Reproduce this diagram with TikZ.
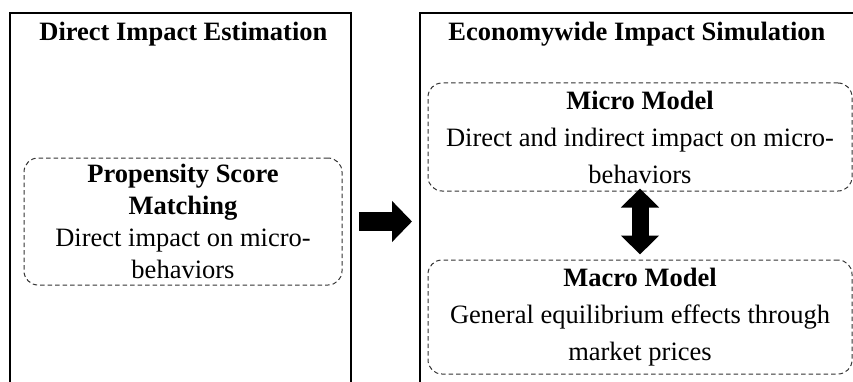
\documentclass[tikz,border=0pt]{standalone}
\usepackage{fontspec}
\setmainfont{Liberation Serif}
\usetikzlibrary{arrows.meta,positioning}

\begin{document}
\begin{tikzpicture}[x=1pt, y=1pt,
  panel/.style={draw, line width=1.8pt, inner sep=0pt, anchor=north west, minimum height=420pt},
  paneltitle/.style={inner sep=0pt, font=\fontsize{26.5}{30}\selectfont\bfseries},
  model/.style={draw=black!80, line width=1pt, dash pattern=on 4.5pt off 3pt, rounded corners=14pt, align=center, inner sep=2pt},
  bigarrow/.style={line width=19pt, -{Triangle[length=20pt, width=40pt]}},
  twoway/.style={line width=17pt, {Triangle[length=19pt, width=37pt]}-{Triangle[length=19pt, width=37pt]}}
]
\clip (0,0) rectangle (853,381);
\useasboundingbox (0,0) rectangle (853,381);

% the two stages
\node[panel, minimum width=341pt] (left) at (9,369) {};
\node[panel, minimum width=442pt] (right) at (419,369) {};
\node[paneltitle, below=10pt of left.north, xshift=3pt] (lefttitle) {Direct Impact Estimation};
\node[paneltitle, below=10pt of right.north, xshift=-4pt] (righttitle) {Economywide Impact Simulation};

% models inside the stages
\node[model, minimum width=318pt, minimum height=127pt, font=\fontsize{26.5}{32}\selectfont] (psm) at (183,159.5)
  {\textbf{Propensity Score}\\\textbf{Matching}\\Direct impact on micro-\\behaviors};
\node[model, minimum width=424pt, minimum height=108pt, font=\fontsize{26.5}{37}\selectfont] (micro) at (640,244)
  {\textbf{Micro Model}\\Direct and indirect impact on micro-\\behaviors};
\node[model, minimum width=424pt, minimum height=114pt, font=\fontsize{26.5}{37}\selectfont, below=68pt of micro] (macro)
  {\textbf{Macro Model}\\General equilibrium effects through\\market prices};

% flow
\draw[bigarrow, shorten <=7pt, shorten >=7pt] (left.east |- psm) -- (right.west |- psm);
\draw[twoway, shorten <=-3pt, shorten >=5pt] (micro.south) -- (macro.north);

\end{tikzpicture}
\end{document}
